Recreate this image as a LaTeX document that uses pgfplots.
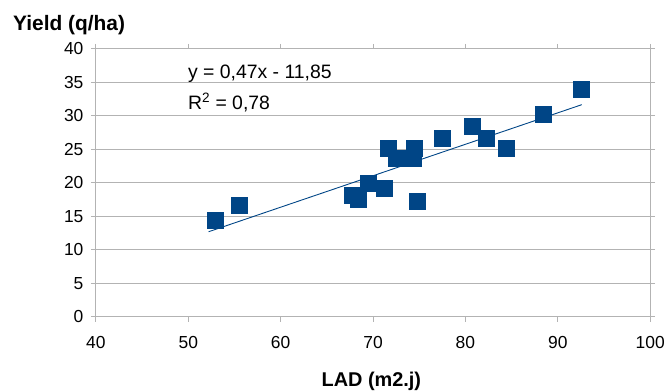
\documentclass[border=0pt]{standalone}
\usepackage{pgfplots}
\pgfplotsset{compat=1.18}
\usepackage{fontspec}
\setmainfont{Liberation Sans}
\definecolor{lo}{HTML}{004586}
\definecolor{gr}{HTML}{B3B3B3}
\begin{document}
\begin{tikzpicture}
\begin{axis}[
 scale only axis, width=555bp, height=268bp,
 xmin=40,xmax=100,ymin=0,ymax=40,
 xtick={40,50,...,100}, ytick={0,5,...,40},
 ymajorgrids, grid style={gr, line width=0.9bp},
 axis line style={gr, line width=0.9bp},
 tick style={gr, line width=0.9bp}, tick align=outside, major tick length=5bp,
 ticklabel style={font=\fontsize{17.5}{20}\selectfont},
 xticklabel style={yshift=-11bp},
 yticklabel style={xshift=-4bp},
 /pgf/number format/assume math mode=true,
 clip=false,
]
\addplot[only marks, mark=square*, mark size=8bp, mark options={fill=lo, draw=lo, line width=0.4bp}] coordinates {
(52.9,14.4) (55.5,16.7) (67.7,18.2) (68.4,17.5) (69.5,20.0) (71.2,19.2)
(71.6,25.1) (72.5,23.6) (74.4,23.6) (74.5,25.1) (74.8,17.2) (77.5,26.7)
(80.7,28.4) (82.3,26.7) (84.4,25.1) (88.4,30.2) (92.5,34.0)
};
\addplot[lo, line width=0.9bp] coordinates {(52.2,12.68) (92.6,31.67)};
\node[anchor=west, font=\fontsize{19.5}{22}\selectfont] at (axis cs:49.6,36.3) {y = 0,47x - 11,85};
\node[anchor=west, font=\fontsize{19.5}{22}\selectfont] at (axis cs:49.6,32.0) {R\textsuperscript{2} = 0,78};
\node[anchor=base west, inner sep=0pt, font=\fontsize{21}{24}\selectfont\bfseries] at (axis description cs:-0.1495,1.067) {Yield (q/ha)};
\node[anchor=base, inner sep=0pt, font=\fontsize{20}{23}\selectfont\bfseries] at (axis description cs:0.497,-0.261) {LAD (m2.j)};
\path (axis description cs:-0.17297,1.18284) rectangle (axis description cs:1.03063,-0.27985);
\end{axis}
\end{tikzpicture}
\end{document}
